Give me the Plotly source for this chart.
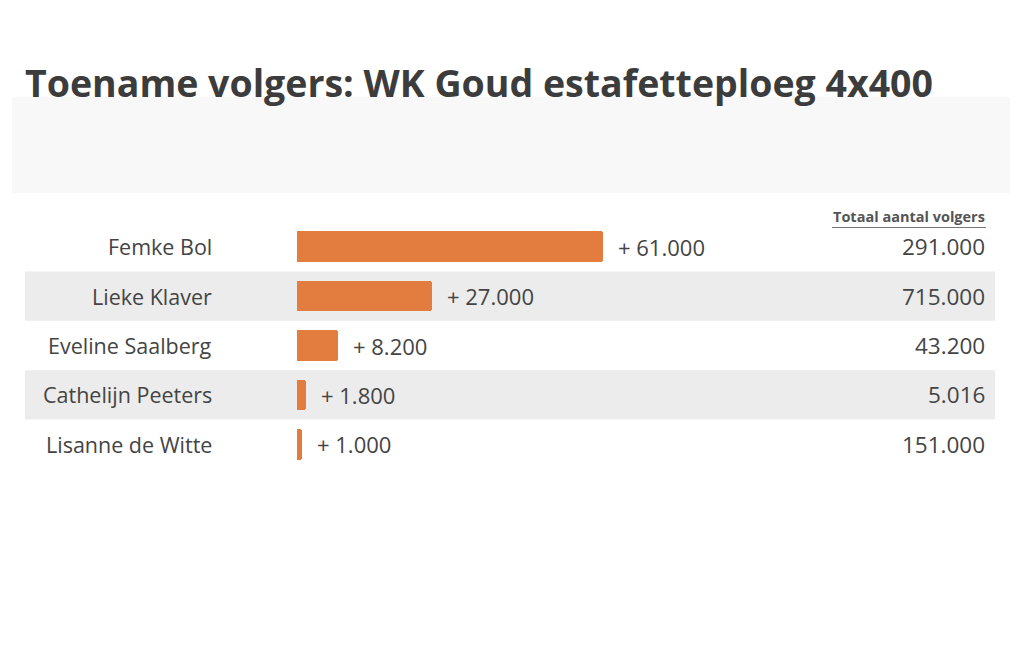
import plotly.graph_objects as go

W, H = 1024, 650

namen = ['Femke Bol', 'Lieke Klaver', 'Eveline Saalberg', 'Cathelijn Peeters', 'Lisanne de Witte']
toename = [61000, 27000, 8200, 1800, 1000]
totaal = [291000, 715000, 43200, 5016, 151000]


def nl(n):
    # duizendtallen met punt
    return f'{n:,}'.replace(',', '.')


FONT = 'Open Sans'
TEKST = '#444444'
ORANJE = '#e27d3f'

fig = go.Figure(go.Bar(
    x=toename,
    y=namen,
    orientation='h',
    width=0.62,
    marker=dict(color=ORANJE, line=dict(width=0), cornerradius=3),
    hoverinfo='skip',
))

# plot-gebied: 0 op 297px, rijen van 222 tot 469px
x0, x1 = 297 / W, 995 / W
fig.update_xaxes(domain=[x0, x1], range=[0, 61000 * (995 - 297) / 306],
                 visible=False, fixedrange=True)
fig.update_yaxes(domain=[(H - 469) / H, (H - 222) / H], autorange='reversed',
                 visible=False, fixedrange=True)

shapes = [
    # lichtgrijs vlak onder de titel
    dict(type='rect', xref='paper', yref='paper', x0=12 / W, x1=1010 / W,
         y0=(H - 193) / H, y1=(H - 97) / H, fillcolor='#f8f8f8', line_width=0, layer='below'),
    # lijn onder kolomkop
    dict(type='line', xref='paper', yref='paper', x0=832 / W, x1=986 / W,
         y0=(H - 227.5) / H, y1=(H - 227.5) / H, line=dict(color='#777777', width=1)),
]
for i, n in enumerate(namen):
    if i % 2 == 1:
        shapes.append(dict(type='rect', xref='paper', yref='y', x0=25 / W, x1=995 / W,
                           y0=i - 0.5, y1=i + 0.5, fillcolor='#ececec', line_width=0, layer='below'))

ann = [
    dict(text='<b>Toename volgers: WK Goud estafetteploeg 4x400</b>', xref='paper', yref='paper',
         x=23 / W, y=(H - 83) / H, xanchor='left', yanchor='middle', showarrow=False,
         font=dict(family=FONT, size=37.5, color='#3c3c3c')),
    dict(text='<b>Totaal aantal volgers</b>', xref='paper', yref='paper',
         x=987 / W, y=(H - 217) / H, xanchor='right', yanchor='middle', showarrow=False,
         font=dict(family=FONT, size=14.5, color='#555555')),
]
for i, n in enumerate(namen):
    ann.append(dict(text=n, xref='paper', yref='y', x=214 / W, y=n, xanchor='right',
                    yanchor='middle', showarrow=False, font=dict(family=FONT, size=21.5, color=TEKST)))
    ann.append(dict(text='+ ' + nl(toename[i]), xref='x', yref='y', x=toename[i], y=n,
                    xanchor='left', yanchor='middle', xshift=13, showarrow=False,
                    font=dict(family=FONT, size=22, color=TEKST)))
    ann.append(dict(text=nl(totaal[i]), xref='paper', yref='y', x=987 / W, y=n, xanchor='right',
                    yanchor='middle', showarrow=False, font=dict(family=FONT, size=22.5, color=TEKST)))

fig.update_layout(
    width=W, height=H,
    margin=dict(l=0, r=0, t=0, b=0),
    paper_bgcolor='white', plot_bgcolor='rgba(0,0,0,0)',
    showlegend=False,
    shapes=shapes,
    annotations=ann,
    bargap=0,
)

fig.write_html('out.html', config={'displayModeBar': False},
               post_script="document.body.style.margin='0';")
